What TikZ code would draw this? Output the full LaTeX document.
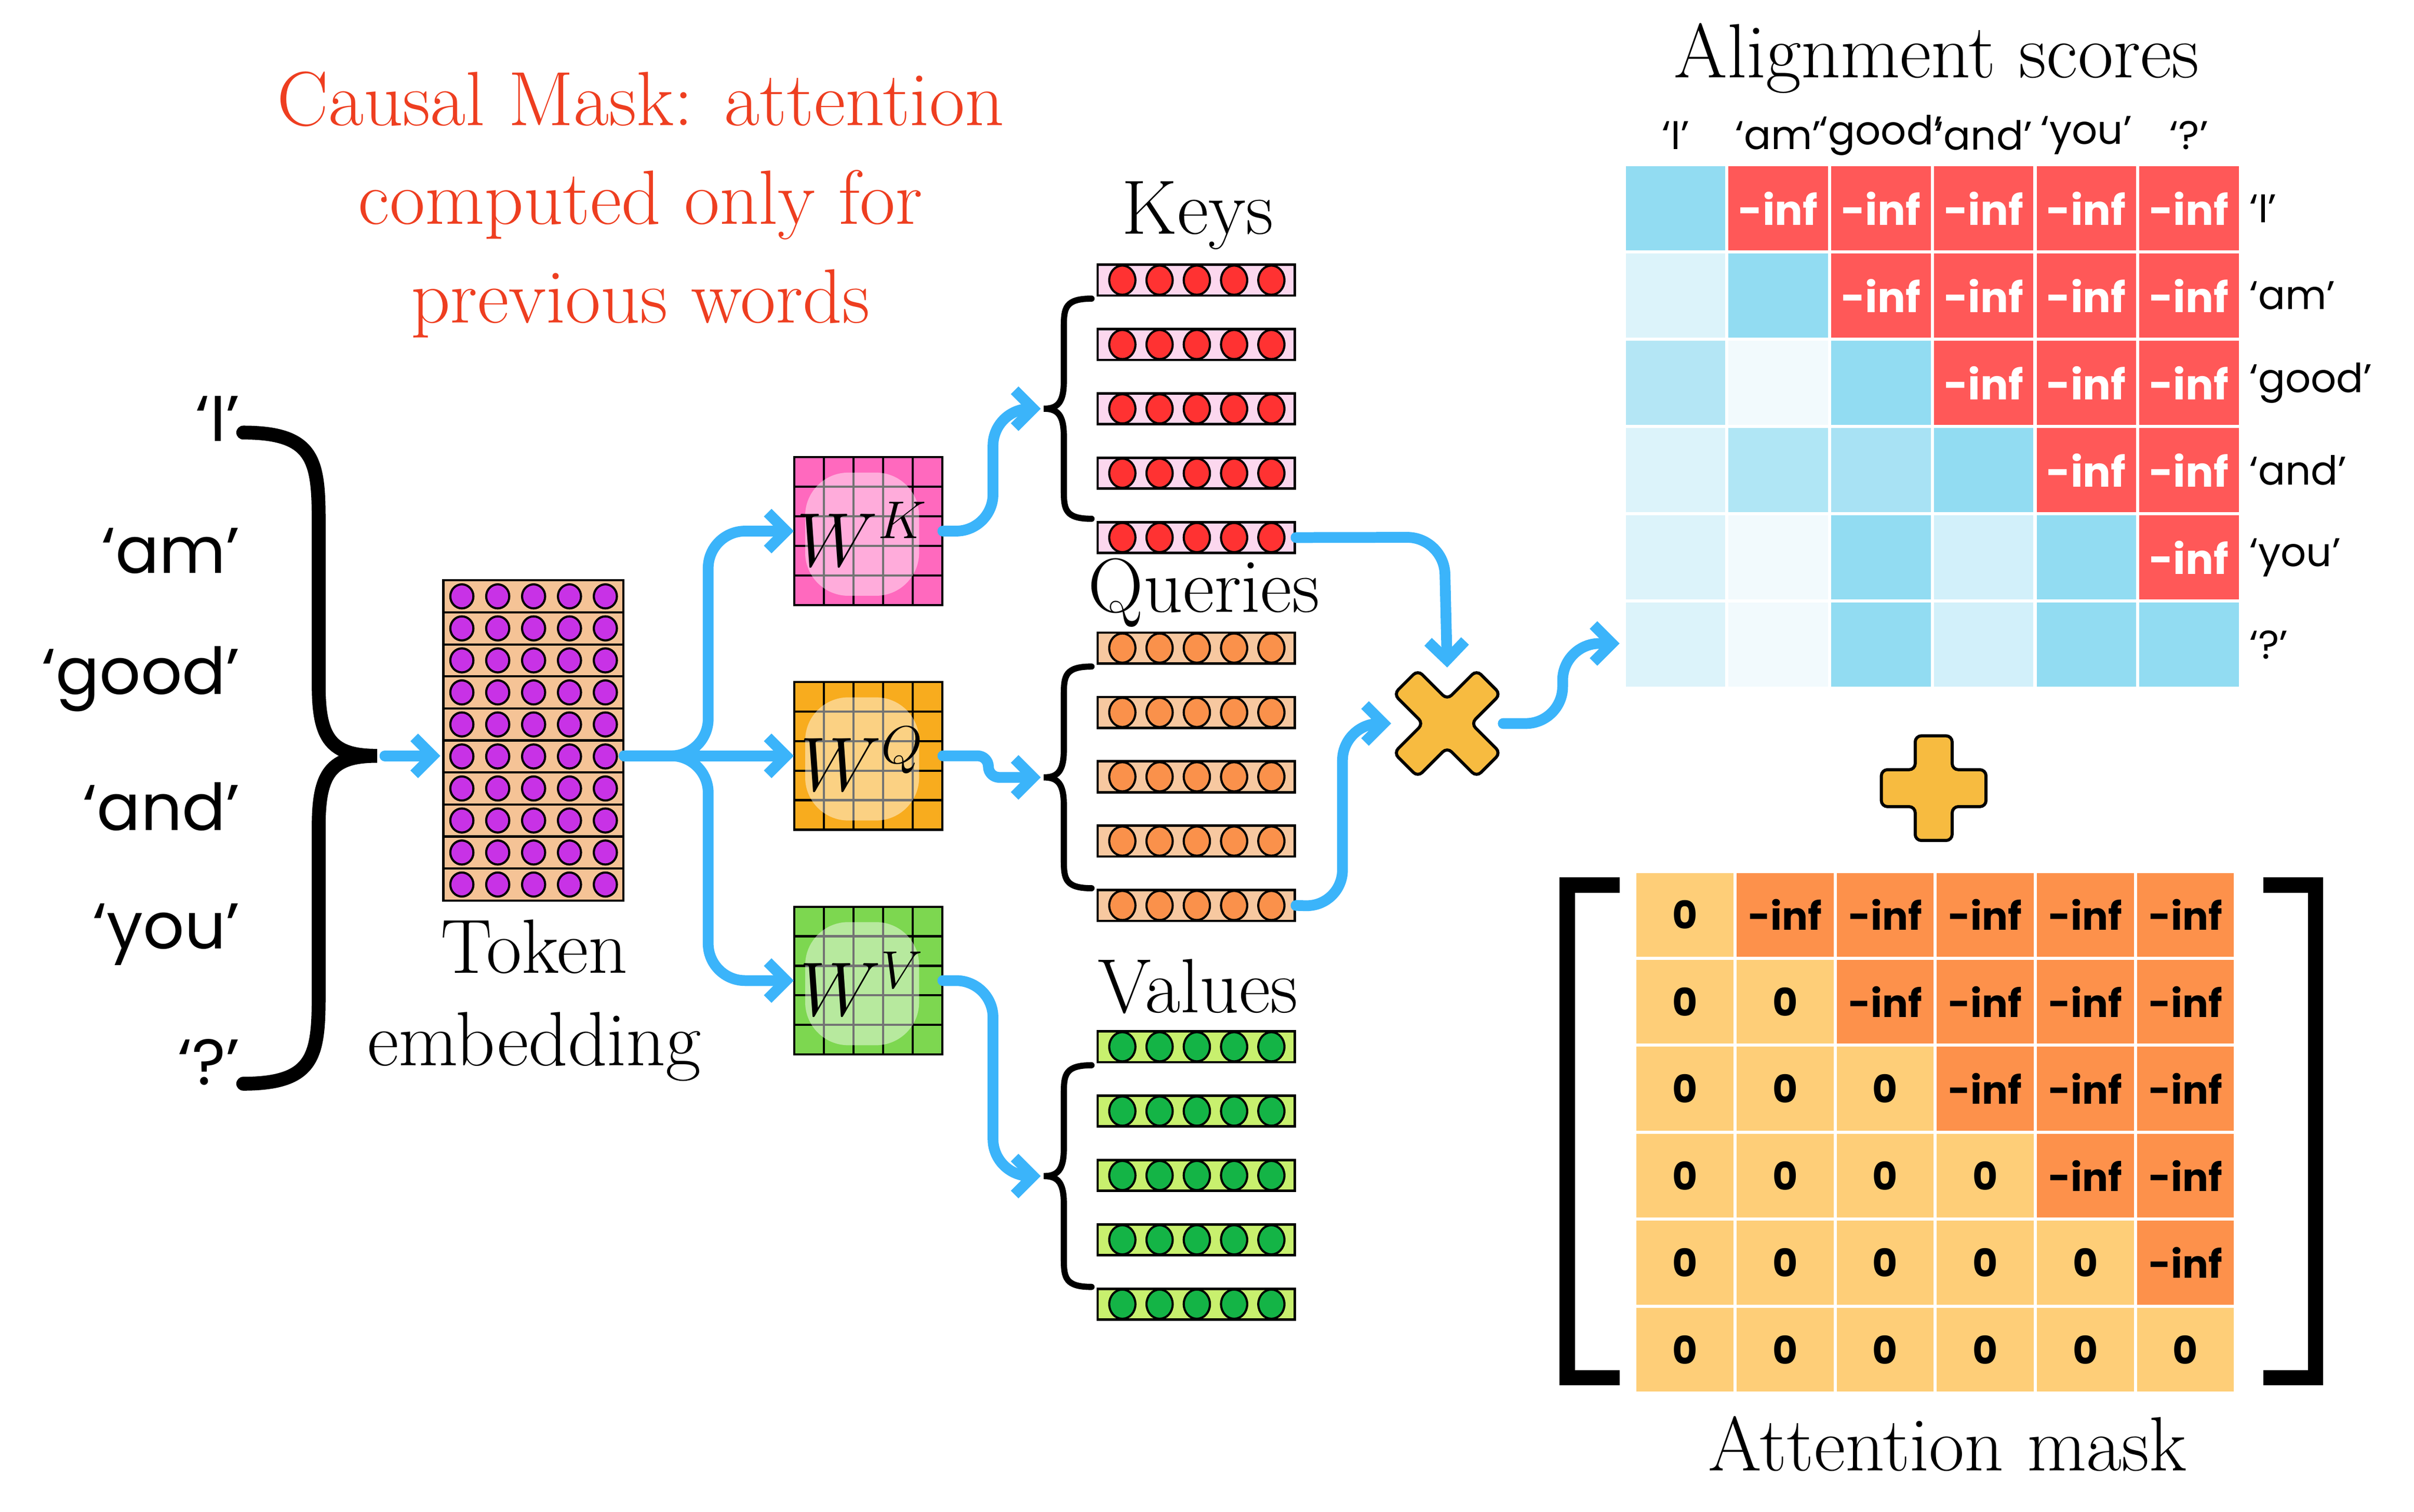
\documentclass[tikz,border=0pt]{standalone}
\usepackage{fontspec}
\newfontfamily\pop{Poppins}
\usetikzlibrary{arrows.meta,calc,shapes.geometric}
\definecolor{ablue}{RGB}{59,180,250}
\definecolor{tred}{RGB}{238,62,32}
\definecolor{B0}{RGB}{146,220,242}
\definecolor{B1}{RGB}{220,243,250}
\definecolor{B2}{RGB}{180,230,245}
\definecolor{B3}{RGB}{242,250,253}
\definecolor{B4}{RGB}{176,230,245}
\definecolor{B5}{RGB}{168,226,244}
\definecolor{B6}{RGB}{210,240,250}
\definecolor{RR}{RGB}{255,88,88}
\definecolor{MO}{RGB}{254,206,120}
\definecolor{MI}{RGB}{253,145,75}
\definecolor{peach}{RGB}{245,195,150}
\definecolor{purp}{RGB}{200,50,230}
\definecolor{kfill}{RGB}{252,215,238}
\definecolor{kcirc}{RGB}{255,50,50}
\definecolor{qfill}{RGB}{247,200,160}
\definecolor{qcirc}{RGB}{250,145,75}
\definecolor{vfill}{RGB}{200,240,110}
\definecolor{vcirc}{RGB}{20,180,70}
\definecolor{wk}{RGB}{255,105,190}
\definecolor{wq}{RGB}{248,172,30}
\definecolor{wv}{RGB}{125,215,80}
\definecolor{opcol}{RGB}{247,187,64}
\begin{document}
\begin{tikzpicture}[x=0.5pt,y=-0.5pt,
  serif/.style={font=\fontsize{25}{30}\selectfont},
  word/.style={font=\pop\fontsize{21}{25}\selectfont},
  small/.style={font=\pop\fontsize{13}{15}\selectfont},
  flow/.style={draw=ablue,line width=3.5pt,line cap=round,line join=round,rounded corners=12pt,-{Straight Barb[length=6pt,width=12pt,line width=3.5pt]}},
  brc/.style={draw=black,line width=2pt,line cap=round},
  bigbrc/.style={draw=black,line width=4.5pt,line cap=round},
  vec/.style={draw=black,line width=0.8pt,minimum width=64pt,minimum height=10pt,inner sep=0pt},
  dot/.style={draw=black,line width=0.7pt,ellipse,minimum width=8.5pt,minimum height=9.5pt,inner sep=0pt},
  cell/.style={draw=white,line width=1pt,minimum width=33.3pt,minimum height=28.3pt,inner sep=0pt},
  mcell/.style={draw=white,line width=1pt,minimum width=32.5pt,minimum height=28.2pt,inner sep=0pt,font=\pop\bfseries\fontsize{12.5}{15}\selectfont},
  wmat/.style={draw=black,line width=0.7pt}]
\useasboundingbox (0,0) rectangle (1568,982);

% title
\node[serif,text=tred,align=center] (title) at (416,133) {Causal Mask: attention\\[2pt]computed only for\\[2pt]previous words};

% left words
\foreach \w/\y [count=\i] in {{‘I’}/272,{‘am’}/358,{‘good’}/441,{‘and’}/524,{‘you’}/607,{‘?’}/690}
  \node[word,anchor=east] (w\i) at (163,\y) {\w};
\draw[bigbrc] (158,281) .. controls (205,281) and (207,300) .. (207,340) -- (207,445) .. controls (207,480) and (215,491) .. (245,491) .. controls (215,491) and (207,502) .. (207,537) -- (207,645) .. controls (207,685) and (205,704) .. (158,704);
\coordinate (ltip) at (250,491);

% token embedding
\foreach \r in {1,...,10}{
  \node[draw=black,line width=0.7pt,fill=peach,minimum width=58.5pt,minimum height=10.4pt,inner sep=0pt] (e\r) at (346.5,{377+(\r-0.5)*20.8}) {};
  \foreach \k in {0,...,4}
    \node[dot,fill=purp,minimum width=7.5pt,minimum height=7.8pt] at ({300+\k*23.3},{377+(\r-0.5)*20.8}) {};
}
\node[minimum width=58.5pt,minimum height=104pt,inner sep=0pt] (emb) at (346.5,481) {};
\node[serif,align=center] (tok) at (347,650) {Token\\[0pt]embedding};
\draw[flow] (ltip) -- (286,491);

% W matrices
\foreach \nm/\yc/\col/\sup in {WK/345/wk/K,WQ/491/wq/Q,WV/637/wv/V}{
  \foreach \i in {0,...,4}\foreach \j in {0,...,4}
    \draw[wmat,fill=\col] ({516+\i*19.2},{\yc-48+\j*19.2}) rectangle ++(19.2,19.2);
  \node[fill=white,fill opacity=0.45,rounded corners=14pt,minimum width=37pt,minimum height=40pt,inner sep=0pt] at (560,{\yc+2}) {};
  \node[font=\fontsize{24}{28}\selectfont] at (560,{\yc+2}) {$W^{\sup}$};
  \node[minimum width=48pt,minimum height=48pt,inner sep=0pt] (\nm) at (564,\yc) {};
}
\coordinate (jn) at (460,491);
\draw[flow] (emb.east|-jn) -- (jn) |- (WK.west);
\draw[flow] (emb.east|-jn) -- (WQ.west);
\draw[flow] (emb.east|-jn) -- (jn) |- (WV.west);

% vectors
\foreach \g/\f/\c/\y in {K/kfill/kcirc/182,Q/qfill/qcirc/421,V/vfill/vcirc/680}{
  \foreach \r in {1,...,5}{
    \node[vec,fill=\f] (\g\r) at (777,{\y+(\r-1)*41.8}) {};
    \foreach \k in {0,...,4}
      \node[dot,fill=\c] at ({729+\k*24.2},{\y+(\r-1)*41.8}) {};
  }
}
\node[serif] (keys) at (778,140) {Keys};
\node[serif] (queries) at (782,385) {Queries};
\node[serif] (values) at (778,641) {Values};

% small braces
\foreach \t/\b/\g in {182/349/K,421/589/Q,680/848/V}{
  \pgfmathsetmacro{\m}{(\t+\b)/2}
  \draw[brc] (709,{\t+12}) .. controls (692,{\t+12}) and (691,{\t+18}) .. (691,{\t+30}) -- (691,{\m-18}) .. controls (691,{\m-4}) and (687,\m) .. (678,\m) .. controls (687,\m) and (691,{\m+4}) .. (691,{\m+18}) -- (691,{\b-30}) .. controls (691,{\b-18}) and (692,{\b-12}) .. (709,{\b-12});
  \coordinate (\g tip) at (676,\m);
}
\coordinate (kc) at (645,345);
\coordinate (qc) at (642,491);
\coordinate (vc) at (645,637);
\draw[flow] (WK.east) -- (kc) |- (Ktip);
\draw[flow,rounded corners=3.5pt] (WQ.east) -- (qc) |- (Qtip);
\draw[flow] (WV.east) -- (vc) |- (Vtip);

% multiply
\node[minimum size=36pt,inner sep=0pt] (mul) at (940,470) {};
\begin{scope}[shift={(940,470)},rotate=45]
\draw[fill=opcol,line width=1pt,rounded corners=2pt] (11,38) -- (11,11) -- (38,11) -- (38,-11) -- (11,-11) -- (11,-38) -- (-11,-38) -- (-11,-11) -- (-38,-11) -- (-38,11) -- (-11,11) -- (-11,38) -- cycle;
\end{scope}
\coordinate (kq) at (938,349);
\coordinate (qq) at (872,589);
\coordinate (mq) at (1015,470);
\draw[flow] (K5.east) -- (kq) -- (mul.north);
\draw[flow] (Q5.east) -- (qq) |- (mul.west);
\draw[flow] (mul.east) -- (mq) |- (1052,418);

% alignment scores
\node[serif] (astitle) at (1258,38) {Alignment scores};
\foreach \r/\c/\col in {1/1/B0,2/1/B1,2/2/B0,3/1/B2,3/2/B3,3/3/B0,4/1/B1,4/2/B4,4/3/B5,4/4/B0,5/1/B1,5/2/B3,5/3/B0,5/4/B6,5/5/B0,6/1/B1,6/2/B3,6/3/B0,6/4/B6,6/5/B0,6/6/B0}
  \node[cell,fill=\col] (a-\r-\c) at ({1055+(\c-0.5)*66.7},{107+(\r-0.5)*56.7}) {};
\foreach \r in {1,...,6}\foreach \c in {1,...,6}{
  \ifnum\c>\r
    \node[cell,fill=RR,text=white,font=\pop\bfseries\fontsize{13.5}{15}\selectfont] (a-\r-\c) at ({1055+(\c-0.5)*66.7},{107+(\r-0.5)*56.7}) {-inf};
  \fi}
\foreach \w [count=\i] in {{‘I’},{‘am’},{‘good’},{‘and’},{‘you’},{‘?’}}{
  \node[small] (cl\i) at ({1055+(\i-0.5)*66.7},88) {\w};
  \node[small,anchor=west] (rl\i) at (1454,{107+(\i-0.5)*56.7}) {\w};
}

% plus
\begin{scope}[shift={(1256,512)}]
\draw[fill=opcol,line width=1pt,rounded corners=2pt] (12,34) -- (12,12) -- (34,12) -- (34,-12) -- (12,-12) -- (12,-34) -- (-12,-34) -- (-12,-12) -- (-34,-12) -- (-34,12) -- (-12,12) -- (-12,34) -- cycle;
\end{scope}

% mask
\foreach \r in {1,...,6}\foreach \c in {1,...,6}{
  \ifnum\c>\r
    \node[mcell,fill=MI] (m-\r-\c) at ({1062+(\c-0.5)*65},{566+(\r-0.5)*56.5}) {-inf};
  \else
    \node[mcell,fill=MO] (m-\r-\c) at ({1062+(\c-0.5)*65},{566+(\r-0.5)*56.5}) {0};
  \fi}
\draw[line width=5pt] (1052,575) -- (1018,575) -- (1018,895) -- (1052,895);
\draw[line width=5pt] (1470,575) -- (1504,575) -- (1504,895) -- (1470,895);
\node[serif] (amask) at (1265,938) {Attention mask};
\end{tikzpicture}
\end{document}
